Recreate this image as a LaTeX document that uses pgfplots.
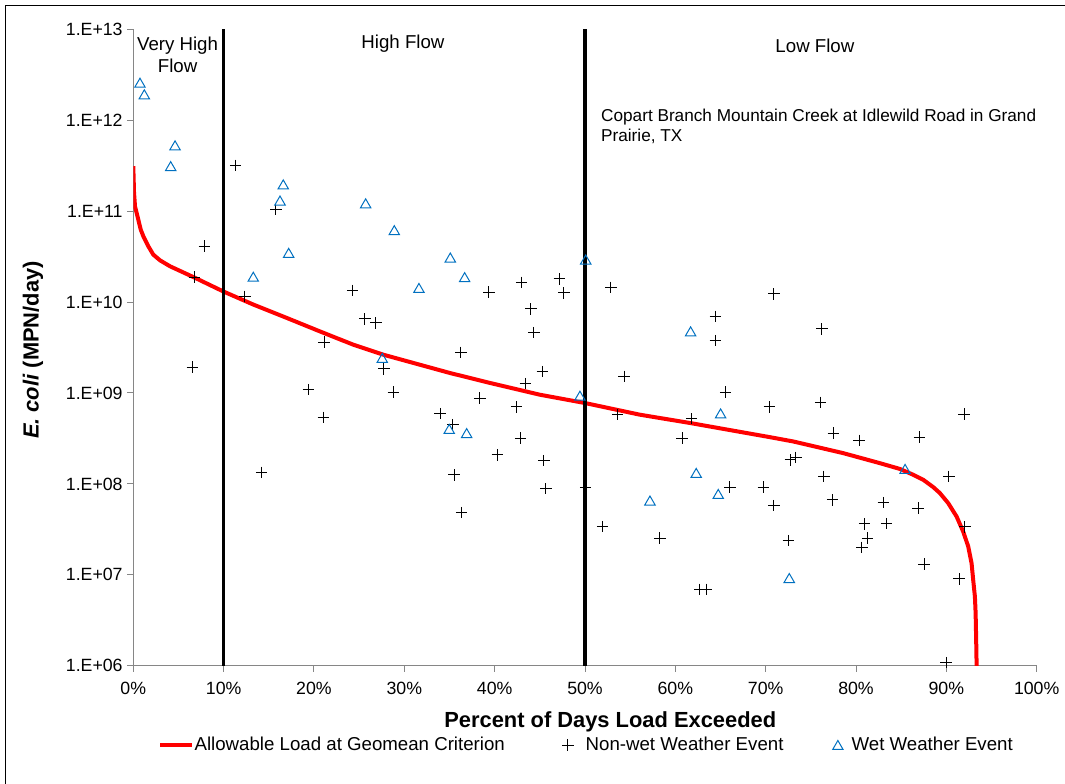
\documentclass[border=0pt]{standalone}
\usepackage{pgfplots}
\pgfplotsset{compat=1.18}
\usepackage{fontspec}
\setmainfont{Liberation Sans}
\definecolor{wetblue}{RGB}{0,112,192}
\definecolor{axgray}{RGB}{134,134,134}
\pgfplotsset{
  curvelegend/.style={legend image code/.code={\draw[##1] (0pt,0pt) -- (24pt,0pt);}},
  crosslegend/.style={legend image code/.code={\path[draw=none] (0pt,0pt) -- (27.5pt,0pt); \draw[##1] plot coordinates {(14.5pt,0pt)};}},
  trilegend/.style={legend image code/.code={\path[draw=none] (0pt,0pt) -- (18pt,0pt); \draw[##1] plot coordinates {(8pt,0pt)};}},
}
\begin{document}
\begin{tikzpicture}[x=1pt,y=1pt]
\path[use as bounding box] (-99.975,-88.725) rectangle (698.775,499.275);
\draw[black, line width=0.75pt] (-95.5,-90) -- (-95.5,495.5) -- (700,495.5);
\begin{axis}[
  at={(0,0)}, anchor=south west,
  width=677.55pt, height=477.2pt, scale only axis,
  xmin=0, xmax=100, ymin=1e6, ymax=1e13, ymode=log,
  axis x line*=bottom, axis y line*=left,
  axis line style={-, draw=axgray, line width=0.75pt},
  tick align=outside, major tick length=4.5pt,
  tick style={axgray, line width=0.75pt},
  yminorticks=false, xminorticks=false,
  xtick={0,10,20,30,40,50,60,70,80,90,100},
  xticklabels={0\%,10\%,20\%,30\%,40\%,50\%,60\%,70\%,80\%,90\%,100\%},
  ytick={1e6,1e7,1e8,1e9,1e10,1e11,1e12,1e13},
  yticklabels={1.E+06,1.E+07,1.E+08,1.E+09,1.E+10,1.E+11,1.E+12,1.E+13},
  ticklabel style={font=\fontsize{13.3}{15}\selectfont},
  xticklabel style={yshift=-4.5pt},
  xlabel={Percent of Days Load Exceeded},
  xlabel style={at={(axis description cs:0.528,-0.0875)}, anchor=center, font=\bfseries\fontsize{16.4}{18}\selectfont},
  ylabel={\textit{E. coli} (MPN/day)},
  ylabel style={at={(axis description cs:-0.111,0.496)}, anchor=center, font=\bfseries\fontsize{16.4}{18}\selectfont},
  legend columns=3,
  legend style={at={(axis description cs:0.0273,-0.1247)}, anchor=west, draw=none, fill=none,
    inner sep=0pt, font=\fontsize{14}{16}\selectfont,
    nodes={inner sep=0.3pt},
    /tikz/every even column/.append style={column sep=32.5pt}},
]
% allowable load curve
\addplot[red, line width=3pt, no marks, curvelegend] coordinates {
(0,3.13e11) (0.08,1.60e11) (0.19,1.13e11) (0.55,8.1e10) (0.82,6.28e10) (1.11,5.31e10)
(1.66,4.12e10) (2.21,3.33e10) (2.96,2.88e10) (4.06,2.48e10)
(6.83,1.85e10) (9.96,1.31e10) (13.28,9.4e9) (16.98,6.7e9) (20.66,4.76e9) (24.35,3.4e9)
(27.67,2.64e9) (35.05,1.66e9) (39.48,1.29e9) (45.01,9.57e8) (49.99,7.76e8) (56.08,5.77e8)
(61.61,4.68e8) (70.45,3.27e8) (73.05,2.93e8) (78.58,2.18e8) (82.65,1.69e8) (84.86,1.46e8)
(86.33,1.26e8) (87.44,1.11e8) (88.54,9.23e7) (89.28,7.93e7) (90.20,6.15e7) (91.13,4.38e7)
(91.86,2.99e7) (92.42,2.05e7) (92.79,1.34e7) (92.97,8.79e6) (93.16,5.75e6) (93.24,3.78e6)
(93.30,1.92e6) (93.35,1e6) (93.36,5e5)
};
\addlegendentry{Allowable Load at Geomean Criterion}
% flow regime dividers
\addplot[black, line width=2.5pt, forget plot] coordinates {(10,1e6) (10,1e13)};
\addplot[black, line width=2.5pt, forget plot] coordinates {(50,1e6) (50,1e13)};
% non-wet weather events
\addplot[only marks, mark=+, mark size=4.3pt, black, mark options={line width=0.75pt}, crosslegend] coordinates {
(11.33,3.19e11) (15.79,1.04e11) (7.86,4.12e10) (6.75,1.88e10) (12.36,1.16e10) (24.28,1.35e10)
(25.64,6.53e9) (26.86,5.9e9) (21.11,3.62e9) (6.53,1.93e9) (27.75,1.84e9) (19.37,1.09e9)
(28.78,1.02e9) (21.03,5.38e8) (33.95,5.92e8) (14.21,1.34e8) (39.37,1.29e10) (42.99,1.65e10)
(47.15,1.80e10) (47.67,1.26e10) (44.02,8.41e9) (44.35,4.61e9) (36.27,2.80e9) (45.29,1.72e9)
(43.39,1.27e9) (38.37,8.81e8) (35.38,4.48e8) (42.43,7.02e8) (42.88,3.19e8) (40.29,2.09e8)
(45.46,1.80e8) (35.50,1.26e8) (45.68,8.84e7) (50.07,9.23e7) (36.35,4.84e7) (52.87,1.45e10)
(54.34,1.52e9) (53.61,5.77e8) (64.42,6.98e9) (64.42,3.77e9) (65.57,1.02e9) (61.80,5.21e8)
(60.76,3.19e8) (51.95,3.40e7) (58.30,2.53e7) (66.04,9.23e7) (69.73,9.19e7) (62.72,6.93e6)
(63.46,6.9e6) (70.91,1.23e10) (76.23,5.07e9) (70.41,7.02e8) (76.08,7.87e8) (77.48,3.62e8)
(80.35,3.01e8) (87.00,3.27e8) (91.97,5.85e8) (72.74,1.84e8) (73.35,1.96e8) (76.45,1.21e8)
(90.28,1.21e8) (70.91,5.78e7) (77.41,6.68e7) (83.03,6.24e7) (86.88,5.41e7) (80.95,3.64e7)
(83.39,3.66e7) (92.05,3.37e7) (81.28,2.53e7) (80.65,2.0e7) (72.52,2.38e7) (87.55,1.31e7)
(91.42,9.02e6) (89.98,1.08e6)
};
\addlegendentry{Non-wet Weather Event}
% wet weather events
\addplot[only marks, mark=triangle, mark size=4.5pt, wetblue, mark options={line width=0.75pt, yshift=-1.1pt}, trilegend] coordinates {
(0.74,2.59e12) (1.22,1.93e12) (4.62,5.30e11) (4.14,3.13e11) (16.60,1.97e11) (16.24,1.31e11)
(25.72,1.22e11) (28.89,6.18e10) (17.20,3.48e10) (13.28,1.90e10) (31.62,1.43e10) (35.09,3.09e10)
(36.68,1.88e10) (50.08,2.94e10) (61.69,4.76e9) (27.56,2.43e9) (49.44,9.33e8) (34.97,4.02e8)
(36.90,3.62e8) (65.01,5.96e8) (62.31,1.32e8) (57.19,6.56e7) (64.75,7.75e7) (85.43,1.46e8)
(72.61,9.21e6)
};
\addlegendentry{Wet Weather Event}
% annotations
\node[align=center, font=\fontsize{14}{16.5}\selectfont] at (axis cs:4.9,5.32e12) {Very High\\Flow};
\node[font=\fontsize{14}{16.5}\selectfont] at (axis cs:29.85,7.03e12) {High Flow};
\node[font=\fontsize{14}{16.5}\selectfont] at (axis cs:75.45,6.52e12) {Low Flow};
\node[anchor=north west, inner sep=0pt, align=left, font=\fontsize{12.9}{15}\selectfont] at (axis cs:51.76,1.352e12) {Copart Branch Mountain Creek at Idlewild Road in Grand\\Prairie, TX};
\end{axis}
\end{tikzpicture}
\end{document}
